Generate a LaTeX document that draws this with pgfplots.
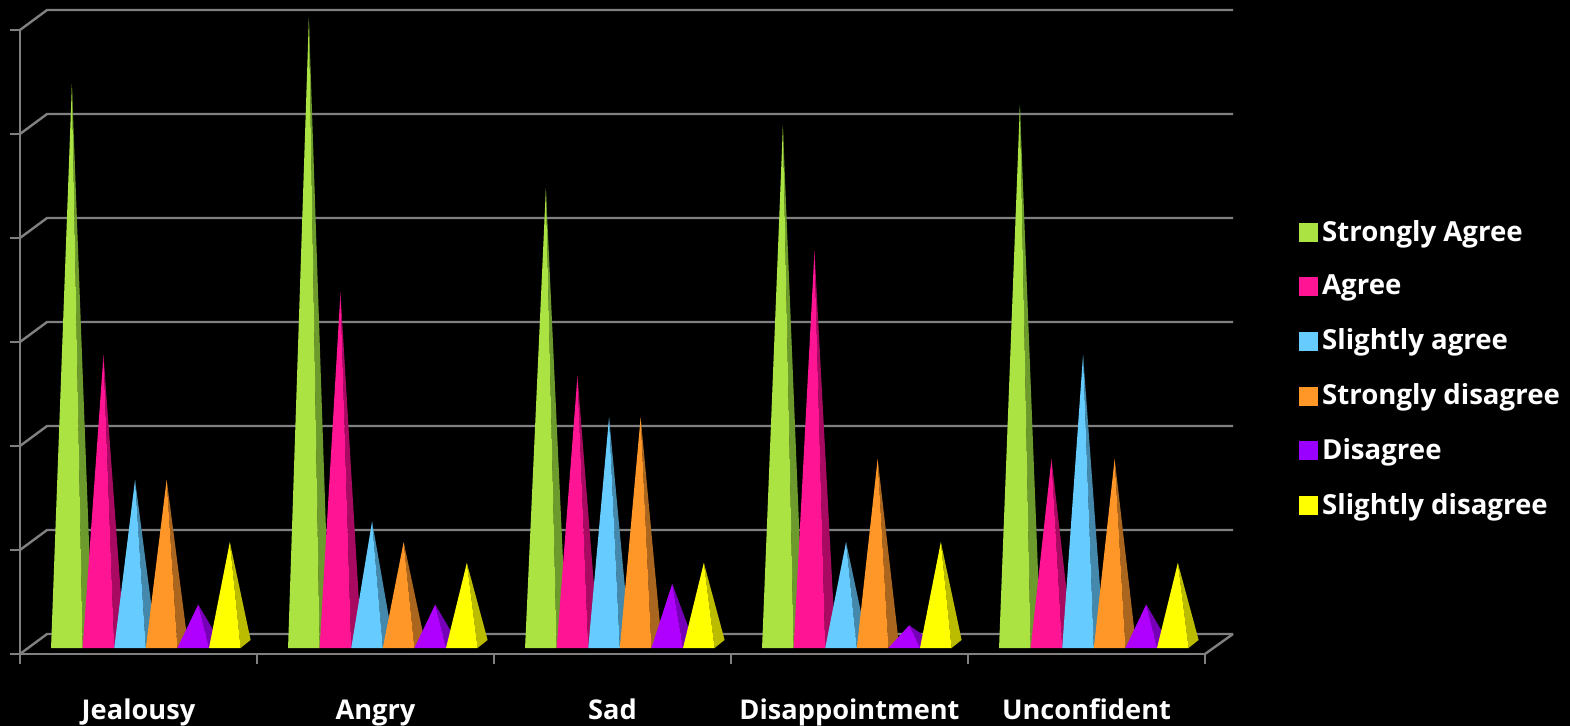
\documentclass[border=0pt]{standalone}
\usepackage{fontspec}
\setmainfont{Open Sans}
\usepackage{pgfplots}
\pgfplotsset{compat=1.18}

\definecolor{wallgray}{HTML}{808080}
\definecolor{green}{HTML}{ABE343}
\definecolor{greenS}{HTML}{6C9A2C}
\definecolor{pink}{HTML}{FF1493}
\definecolor{pinkS}{HTML}{A80A62}
\definecolor{blue}{HTML}{66CCFF}
\definecolor{blueS}{HTML}{4488AC}
\definecolor{orange}{HTML}{FF9628}
\definecolor{orangeS}{HTML}{AA661E}
\definecolor{purple}{HTML}{AF00FF}
\definecolor{purpleS}{HTML}{7600B8}
\definecolor{yellow}{HTML}{FFFF00}
\definecolor{yellowS}{HTML}{BBBB00}
\definecolor{keypurple}{HTML}{9900FF}

% one pyramid: group, slot, value, colour
\newcommand\pyr[4]{%
  \pgfmathsetmacro\xl{#1+0.131+#2*0.1333}%
  \pgfmathsetmacro\xr{\xl+0.1333}%
  \pgfmathsetmacro\xs{\xr+0.0423}%
  \pgfmathsetmacro\xa{\xl+0.0879}%
  \pgfmathsetmacro\ya{#3+0.38}%
  \edef\temp{%
    \noexpand\addplot[forget plot,draw=none,fill=#4S] coordinates {(\xr,0.288) (\xs,0.673) (\xa,\ya)} --cycle;
    \noexpand\addplot[forget plot,draw=none,fill=#4] coordinates {(\xl,0.288) (\xr,0.288) (\xa,\ya)} --cycle;
  }\temp
}
\newcommand\group[7]{%
  \pyr{#1}{0}{#2}{green}\pyr{#1}{1}{#3}{pink}\pyr{#1}{2}{#4}{blue}%
  \pyr{#1}{3}{#5}{orange}\pyr{#1}{4}{#6}{purple}\pyr{#1}{5}{#7}{yellow}%
}
\newcommand\wall[1]{%
  \pgfmathsetmacro\yb{#1+0.9615}%
  \edef\temp{\noexpand\addplot[forget plot,wallgray,line width=1.2pt] coordinates {(0,#1) (0.1141,\yb) (5.1183,\yb)};}\temp
}
\newcommand\key[1]{%
  \addlegendimage{legend image code/.code={\fill[#1] (-2.5pt,-4.5pt) rectangle (6.5pt,4.5pt);}}
}

\begin{document}
\begin{tikzpicture}
\useasboundingbox[fill=black] (-10pt,-36pt) rectangle (775pt,327pt);
\begin{axis}[
  scale only axis,
  width=592.5pt,
  height=312pt,
  xmin=0, xmax=5,
  ymin=0, ymax=30,
  clip=false,
  axis lines=left,
  axis line style={-,wallgray,line width=1.2pt},
  tick style={wallgray,line width=1.2pt},
  tick align=outside,
  major tick length=5pt,
  xtick={0,1,2,3,4,5},
  xticklabels={},
  ytick={0,5,10,15,20,25,30},
  yticklabels={},
  extra x ticks={0.5,1.5,2.5,3.5,4.5},
  extra x tick labels={Jealousy,Angry,Sad,Disappointment,Unconfident},
  extra x tick style={
    major tick length=0pt,
    tick label style={white,font=\bfseries\fontsize{13.6}{16}\selectfont,text height=11pt,text depth=3pt,yshift=-18pt},
  },
  legend style={
    draw=none,fill=none,text=white,
    font=\bfseries\fontsize{13.8}{16}\selectfont,
    at={(axis cs:5.371,13.7)},anchor=west,
    row sep=11.5pt,
    legend cell align=left,
  },
]
\wall{0}\wall{5}\wall{10}\wall{15}\wall{20}\wall{25}\wall{30}
\addplot[forget plot,wallgray,line width=1.2pt] coordinates {(5,0) (5.1183,0.9615)};

\group{0}{27}{14}{8}{8}{2}{5}
\group{1}{30.2}{17}{6}{5}{2}{4}
\group{2}{22}{13}{11}{11}{3}{4}
\group{3}{25}{19}{5}{9}{1}{5}
\group{4}{26}{9}{14}{9}{2}{4}

\key{green}\addlegendentry{Strongly Agree}
\key{pink}\addlegendentry{Agree}
\key{blue}\addlegendentry{Slightly agree}
\key{orange}\addlegendentry{Strongly disagree}
\key{keypurple}\addlegendentry{Disagree}
\key{yellow}\addlegendentry{Slightly disagree}
\end{axis}
\end{tikzpicture}
\end{document}
